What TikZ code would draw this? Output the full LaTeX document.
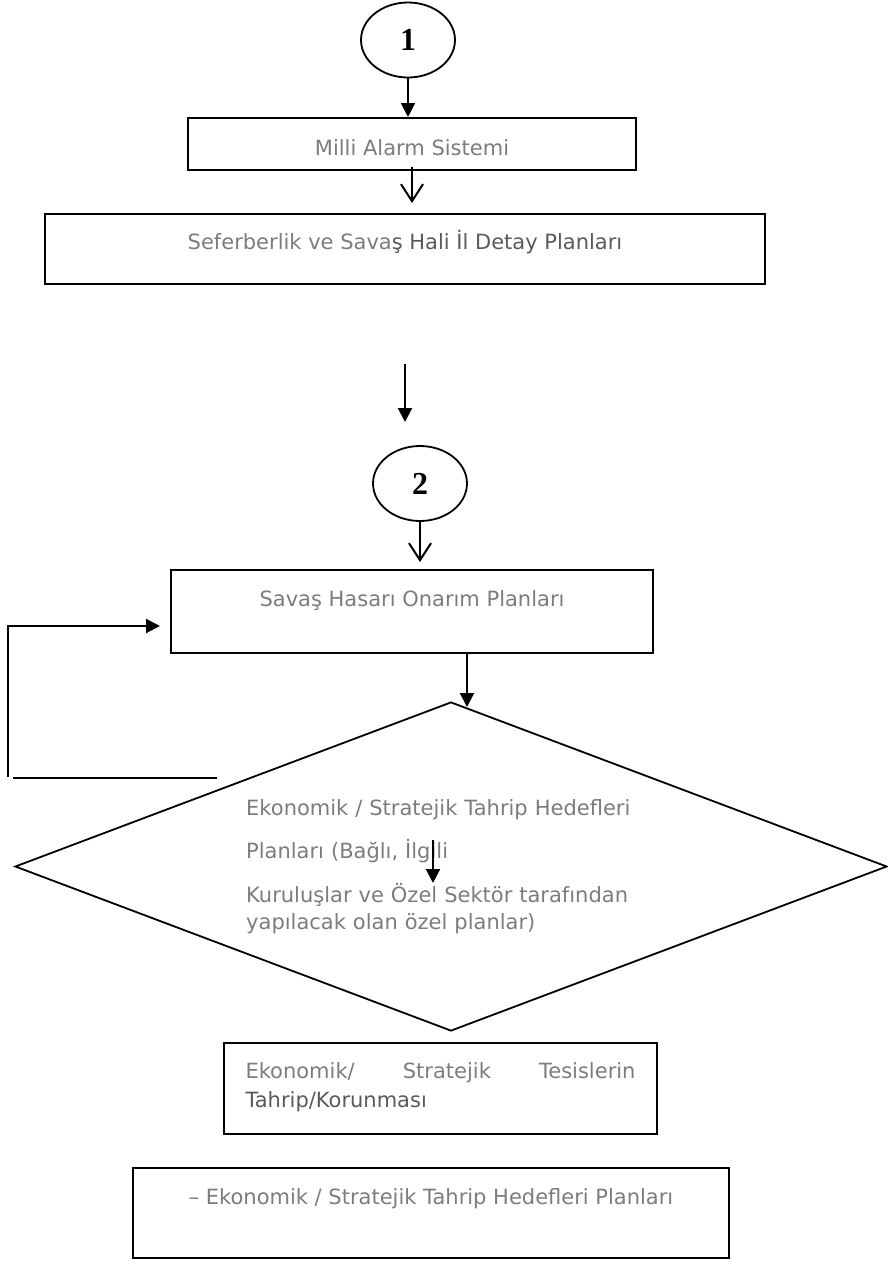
\documentclass[tikz,border=0pt]{standalone}
\usepackage{fontspec}
\setmainfont{DejaVu Sans}
\newfontfamily\numfont{Liberation Serif}
\usetikzlibrary{shapes.geometric,arrows.meta}
\definecolor{txt}{HTML}{7C7C7C}
\definecolor{txtd}{HTML}{5A5A5A}
\begin{document}
\begin{tikzpicture}[x=1pt,y=-1pt,
  box/.style={draw, line width=2pt, rectangle, inner sep=0pt, anchor=north west, text=txt, font=\fontsize{21pt}{29pt}\selectfont},
  circ/.style={draw, ellipse, line width=1.8pt, inner sep=0pt, minimum width=94pt, minimum height=75pt, font=\numfont\bfseries\fontsize{32pt}{34pt}\selectfont},
  farr/.style={line width=2pt, -{Triangle[length=14pt,width=14pt]}},
  oarr/.style={line width=2pt, -{Straight Barb[length=17pt,width=22pt]}},
  plainline/.style={line width=2pt},
  dtext/.style={text=txt, font=\fontsize{21pt}{27pt}\selectfont, text width=420pt, align=left, inner sep=0pt, anchor=base west}
]
\useasboundingbox (0,0) rectangle (887,1261);

\node[circ] (c1) at (408,40) {1};
\node[box, minimum width=448pt, minimum height=52pt, text height=37pt, text depth=15pt] (mil) at (187,117) {Milli Alarm Sistemi};
\node[box, minimum width=720pt, minimum height=70pt, text height=35pt, text depth=35pt] (sef) at (44,213) {Seferberlik ve Sava\textcolor{txtd}{ş Hali İl Detay Planları}};
\node[circ] (c2) at (420,483.5) {2};
\node[box, minimum width=482pt, minimum height=83pt, text height=36pt, text depth=47pt] (sav) at (170,569) {Savaş Hasarı Onarım Planları};
\node[draw, diamond, line width=1.8pt, inner sep=0pt, minimum width=872pt, minimum height=329pt] (dia) at (451,866.5) {};
\node[dtext] (dtx) at (246,815) {Ekonomik / Stratejik Tahrip Hedefleri\\[16pt]Planları (Bağlı, İlgili\\[17pt]Kuruluşlar ve Özel Sektör tarafından\\yapılacak olan özel planlar)};
\node[box, minimum width=433pt, minimum height=91pt, text width=390pt, align=justify, text height=35pt, text depth=56pt] (tes) at (223,1042) {Ekonomik/\hfill Stratejik\hfill Tesislerin\\\textcolor{txtd}{Tahrip/Korunması}};
\node[box, minimum width=596pt, minimum height=90pt, text height=36pt, text depth=54pt] (low) at (132,1167) {– Ekonomik / Stratejik Tahrip Hedefleri Planları};

\coordinate (a3s) at (405,364);
\coordinate (a3e) at (405,422);
\coordinate (a5) at (467,707);
\coordinate (fb1) at (8,777);
\coordinate (fb2) at (160,626);
\coordinate (fl1) at (13,778);
\coordinate (fl2) at (217,778);
\coordinate (a7s) at (433,840);
\coordinate (a7e) at (433,883);

\draw[farr] (c1.south) -- (c1.south |- mil.north);
\draw[oarr] ([yshift=4pt]mil.south) -- ([yshift=10pt]sef.north -| mil.south);
\draw[farr] (a3s) -- (a3e);
\draw[oarr] (c2.south) -- ([yshift=7pt]sav.north -| c2.south);
\draw[farr] (sav.south -| a5) -- (a5);
\draw[farr] (fb1) |- (fb2);
\draw[plainline] (fl1) -- (fl2);
\draw[farr] (a7s) -- (a7e);
\end{tikzpicture}
\end{document}
